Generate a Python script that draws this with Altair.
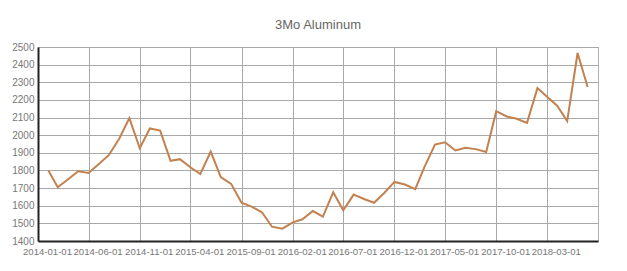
import altair as alt
import pandas as pd

dates = [
    "2014-02-01", "2014-03-01", "2014-04-01", "2014-05-01", "2014-06-01", "2014-07-01",
    "2014-08-01", "2014-09-01", "2014-10-01", "2014-11-01", "2014-12-01", "2015-01-01",
    "2015-02-01", "2015-03-01", "2015-04-01", "2015-05-01", "2015-06-01", "2015-07-01",
    "2015-08-01", "2015-09-01", "2015-10-01", "2015-11-01", "2015-12-01", "2016-01-01",
    "2016-02-01", "2016-03-01", "2016-04-01", "2016-05-01", "2016-06-01", "2016-07-01",
    "2016-08-01", "2016-09-01", "2016-10-01", "2016-11-01", "2016-12-01", "2017-01-01",
    "2017-02-01", "2017-03-01", "2017-04-01", "2017-05-01", "2017-06-01", "2017-07-01",
    "2017-08-01", "2017-09-01", "2017-10-01", "2017-11-01", "2017-12-01", "2018-01-01",
    "2018-02-01", "2018-03-01", "2018-04-01", "2018-05-01", "2018-06-01", "2018-07-01",
]
values = [
    1800, 1705, 1750, 1795, 1786, 1835,
    1888, 1981, 2097, 1926, 2038, 2026,
    1855, 1864, 1818, 1780, 1907, 1762,
    1724, 1617, 1595, 1563, 1481, 1470,
    1506, 1523, 1570, 1538, 1676, 1574,
    1663, 1638, 1617, 1674, 1735, 1720,
    1694, 1822, 1947, 1960, 1913, 1928,
    1921, 1905, 2136, 2106, 2093, 2070,
    2267, 2219, 2167, 2080, 2466, 2273,
]
tick_months = [(2014, 1), (2014, 6), (2014, 11), (2015, 4), (2015, 9), (2016, 2),
               (2016, 7), (2016, 12), (2017, 5), (2017, 10), (2018, 3)]
y_ticks = list(range(1400, 2501, 100))

df = pd.DataFrame({"date": dates, "value": values})

x_ticks = [alt.DateTime(year=y, month=m, date=1, utc=True) for y, m in tick_months]

chart = alt.Chart(df).mark_line(color="#c3814f", strokeWidth=2).encode(
    x=alt.X(
        "date:T",
        scale=alt.Scale(
            type="utc",
            domain=[alt.DateTime(year=2014, month=1, date=1, utc=True),
                    alt.DateTime(year=2018, month=8, date=1, utc=True)],
        ),
        axis=alt.Axis(
            values=x_ticks,
            labelExpr="utcFormat(datum.value, '%Y-%m-%d')",
            title=None,
            labelOffset=9,
            labelPadding=5,
            ticks=False,
            labelFlush=False,
            labelOverlap=False,
            labelFontSize=9.6,
        ),
    ),
    y=alt.Y(
        "value:Q",
        scale=alt.Scale(domain=[1400, 2500], nice=False, zero=False),
        axis=alt.Axis(values=y_ticks, format="d", title=None, ticks=False, labelPadding=4),
    ),
).properties(
    width=560,
    height=194,
    title=alt.TitleParams(
        "3Mo Aluminum", fontSize=13, fontWeight="normal", color="#666666",
        font="Liberation Sans", anchor="middle", baseline="alphabetic", offset=0,
    ),
    autosize=alt.AutoSizeParams(type="none"),
    padding={"left": 38, "top": 47, "right": 29, "bottom": 30},
).configure_view(
    stroke="#b0b0b0", strokeWidth=1
).configure_axis(
    gridColor="#a8a8a8",
    gridWidth=1,
    gridOpacity=1,
    domainColor="#222222",
    domainWidth=2,
    labelColor="#777777",
    labelFont="Liberation Sans",
    labelFontSize=10,
)

chart.save("out.html", embed_options={"renderer": "svg", "actions": False})
